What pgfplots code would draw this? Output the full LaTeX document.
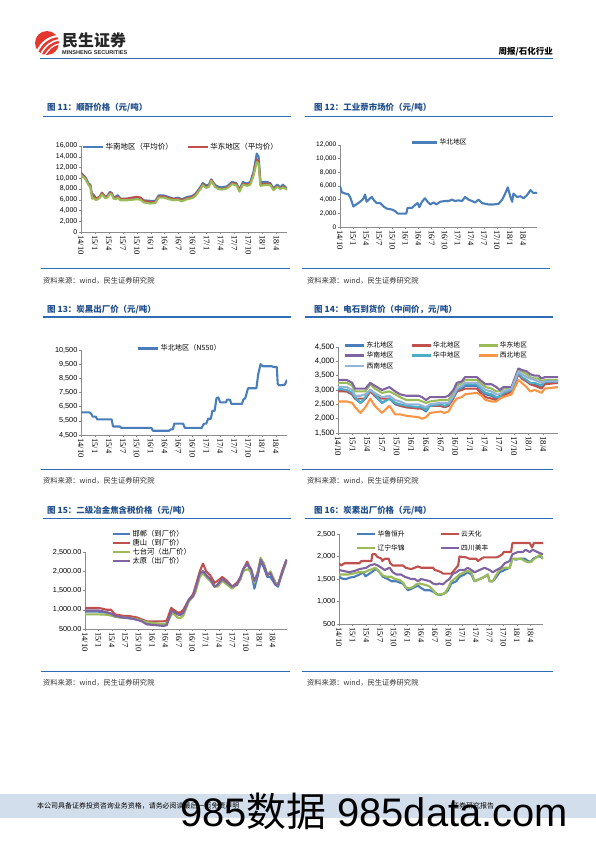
\documentclass[border=0pt]{standalone}
\usepackage{fontspec}
\usepackage{pgfplots}
\usepackage{pgfplotstable}
\pgfplotsset{compat=1.18}
\setmainfont{Liberation Sans}
\newfontfamily\cjk{Noto Sans CJK SC}
\newfontfamily\tnr{Liberation Serif}

\definecolor{cBlue}{HTML}{4A7EBB}
\definecolor{cRed}{HTML}{C0504D}
\definecolor{cGreen}{HTML}{9BBB59}
\definecolor{cPurple}{HTML}{8064A2}
\definecolor{cTeal}{HTML}{4BACC6}
\definecolor{cOrange}{HTML}{F79646}
\definecolor{cLBlue}{HTML}{95B3D7}
\definecolor{hdrBlue}{HTML}{2E6DB4}
\definecolor{ttlBlue}{HTML}{1F4E8C}
\definecolor{axGray}{HTML}{8C8C8C}
\definecolor{bandBlue}{HTML}{D2DEEB}
\definecolor{logoRed}{HTML}{E4382E}

\pgfplotstableread{
m ne nc ec sc cc nw sw
0 3000 2950 3250 3350 3050 2600 3100
1.8 2950 2950 3250 3350 3000 2600 3100
2.9 2850 2850 3150 3250 2900 2550 3000
3.5 2700 2700 2950 3050 2750 2400 2800
4.6 2550 2700 2950 3050 2550 2200 2800
5.6 2700 2700 2950 3050 2750 2400 2850
6.6 3000 2950 3200 3250 3000 2700 3000
7.5 2800 2800 3050 3150 2850 2450 2900
9.0 2550 2700 2900 3000 2550 2200 2750
10.5 2700 2700 2950 3100 2700 2450 2800
11.7 2500 2550 2850 2950 2550 2150 2650
12.7 2450 2450 2750 2850 2500 2150 2600
14 2400 2400 2650 2800 2450 2100 2500
16.5 2400 2350 2650 2800 2400 2050 2500
17.2 2350 2350 2600 2750 2400 2000 2450
18 2250 2350 2550 2650 2300 2050 2400
18.8 2450 2450 2600 2750 2450 2200 2500
21 2450 2450 2650 2750 2500 2250 2550
21.8 2400 2400 2650 2750 2450 2200 2550
22.6 2500 2450 2650 2800 2500 2250 2550
23.6 2750 2700 2900 3000 2750 2550 2800
24.3 2950 2950 3150 3250 3000 2700 3050
25.3 3050 3000 3250 3300 3100 2750 3150
26 3150 3050 3350 3450 3200 2850 3250
28.4 3150 3050 3350 3450 3200 2900 3250
29.4 2950 2850 3200 3300 3000 2800 3100
30.2 2850 2750 3100 3200 2900 2650 3000
31.4 2800 2700 3050 3200 2850 2600 2950
32.4 2700 2650 2950 3100 2750 2600 2850
33.1 2800 2700 2950 3000 2750 2700 2850
33.8 2850 2800 3050 3100 2900 2750 2950
35.5 2950 2950 3100 3100 3000 2850 3050
36.9 3650 3550 3700 3750 3600 3350 3650
37.6 3400 3400 3650 3700 3450 3250 3550
38.6 3300 3300 3550 3650 3350 3100 3450
39.3 3250 3200 3450 3550 3250 2950 3400
40.2 3200 3150 3400 3500 3250 3000 3350
41 3150 3100 3400 3500 3200 2950 3300
41.6 3100 3050 3300 3400 3150 2900 3250
42.3 3250 3200 3350 3450 3300 3050 3300
45 3300 3250 3350 3450 3300 3100 3300
}\tabFourteen

\pgfplotstableread{
m hd ts qt ty
0 950 1050 880 980
3 950 1050 880 980
4.9 920 1000 870 940
5.8 900 1000 850 900
6.7 820 880 820 840
8.6 790 840 800 800
9.7 780 840 790 790
11.6 750 800 760 740
12.7 720 750 720 700
13.8 650 700 680 620
17.6 620 700 620 580
18.3 650 720 640 600
19.3 950 1050 870 950
19.8 1000 1000 900 950
20.7 900 930 800 880
21.3 880 930 780 860
22 950 1000 850 920
23.2 1250 1250 1200 1250
24.2 1400 1400 1350 1350
24.7 1550 1600 1450 1550
25.7 1900 2000 1850 1950
26.4 2000 2200 1950 2000
27.1 1900 2000 1850 1900
28 1800 1900 1750 1800
29 1600 1700 1600 1600
29.7 1650 1750 1600 1650
30.7 1800 1850 1750 1800
31.8 1700 1750 1650 1700
32.9 1600 1600 1550 1600
34 1650 1700 1650 1650
34.8 1800 1850 1800 1850
35.4 2050 2050 2000 2050
36.3 2200 2250 2050 2200
37.2 1950 2000 2000 2050
37.9 1550 1700 1700 1750
38.7 1900 2000 2000 1950
39.3 2250 2300 2350 2300
40 2100 2200 2200 2150
40.8 1850 1900 1900 1900
41.5 1850 1950 2000 1950
42.6 1650 1700 1700 1650
43.2 1600 1650 1650 1650
44.1 1950 2000 1950 1950
45.1 2300 2300 2250 2300
}\tabFifteen

\pgfplotsset{
  rep/.style={
    scale only axis,
    axis x line*=bottom, axis y line*=left,
    axis line style={draw=axGray, line width=0.7bp},
    tick style={draw=axGray, line width=0.5bp},
    tick align=outside, major tick length=2bp,
    xmin=0,
    xtick={0,3,...,42},
    xticklabels={14/10,15/1,15/4,15/7,15/10,16/1,16/4,16/7,16/10,17/1,17/4,17/7,17/10,18/1,18/4},
    xticklabel style={rotate=-90, anchor=west, inner sep=1.2bp, font=\tnr\fontsize{8.5}{9}\selectfont},
    yticklabel style={inner sep=1.5bp, font=\fontsize{7}{8}\selectfont},
    /pgf/number format/assume math mode=true,
    /pgf/number format/1000 sep={,},
    scaled y ticks=false,
    legend style={draw=none, fill=none, inner sep=0pt, outer sep=0pt, anchor=north west,
      font=\cjk\fontsize{7}{8}\selectfont,
      nodes={inner sep=1bp, text height=5.6bp, text depth=1.4bp}},
    legend cell align=left,
    every axis plot/.append style={line width=2.1bp, line join=round, mark=none},
  }
}

\newcommand{\ttl}[3]{\node[anchor=west, inner sep=0, text=ttlBlue] at (#1bp,-#2bp) {\cjk\bfseries\fontsize{8.5}{9}\selectfont #3};}
\newcommand{\src}[2]{\node[anchor=west, inner sep=0, text=black!80] at (#1bp,-#2bp) {\cjk\fontsize{7.3}{8}\selectfont 资料来源：wind，民生证券研究院};}

\begin{document}
\begin{tikzpicture}
\fill[white] (0,0) rectangle (596bp,-842bp);
\path[use as bounding box] (0,0) rectangle (596bp,-842bp);

% ---------- header ----------
\fill[logoRed] (47bp,-43bp) circle (12bp);
\draw[white, line width=2bp] (37bp,-52bp) .. controls (41bp,-43bp) and (48bp,-37bp) .. (58bp,-36bp);
\draw[white, line width=1.6bp] (41bp,-54bp) .. controls (45bp,-46bp) and (51bp,-41bp) .. (59bp,-40bp);
\draw[white, line width=1.2bp] (45bp,-55bp) .. controls (49bp,-49bp) and (53bp,-45bp) .. (59bp,-44bp);
\node[anchor=west, inner sep=0, text=black!85] at (62bp,-40.5bp) {\cjk\bfseries\fontsize{16}{16}\selectfont 民生证券};
\node[anchor=west, inner sep=0, text=black!85] at (62bp,-52.5bp) {\bfseries\fontsize{5.6}{6}\selectfont MINSHENG SECURITIES};
\node[anchor=east, inner sep=0] at (553bp,-52bp) {\cjk\bfseries\fontsize{8.5}{9}\selectfont 周报/石化行业};
\draw[hdrBlue, line width=1.5bp] (40bp,-58.5bp) -- (553bp,-58.5bp);

% ---------- titles, rules, sources ----------
\ttl{47}{108}{图 11：顺酐价格（元/吨）}
\ttl{314}{108}{图 12：工业萘市场价（元/吨）}
\draw[hdrBlue, line width=1.2bp] (43bp,-116.5bp) -- (291bp,-116.5bp);
\draw[hdrBlue, line width=1.2bp] (305bp,-116.5bp) -- (553bp,-116.5bp);
\draw[hdrBlue, line width=0.9bp] (41bp,-268bp) -- (290bp,-268bp);
\draw[hdrBlue, line width=0.9bp] (302bp,-268bp) -- (550bp,-268bp);
\src{43}{281}
\src{307}{281}

\ttl{47}{309.5}{图 13：炭黑出厂价（元/吨）}
\ttl{314}{309.5}{图 14：电石到货价（中间价，元/吨）}
\draw[hdrBlue, line width=1.2bp] (43bp,-317bp) -- (291bp,-317bp);
\draw[hdrBlue, line width=1.2bp] (305bp,-317bp) -- (553bp,-317bp);
\draw[hdrBlue, line width=0.9bp] (41bp,-469bp) -- (290bp,-469bp);
\draw[hdrBlue, line width=0.9bp] (302bp,-469bp) -- (553bp,-469bp);
\src{43}{481}
\src{307}{481}

\ttl{47}{511}{图 15：二级冶金焦含税价格（元/吨）}
\ttl{314}{511}{图 16：炭素出厂价格（元/吨）}
\draw[hdrBlue, line width=1.2bp] (43bp,-518.5bp) -- (291bp,-518.5bp);
\draw[hdrBlue, line width=1.2bp] (305bp,-518.5bp) -- (553bp,-518.5bp);
\draw[hdrBlue, line width=0.9bp] (41bp,-671bp) -- (290bp,-671bp);
\draw[hdrBlue, line width=0.9bp] (302bp,-671bp) -- (553bp,-671bp);
\src{43}{683}
\src{307}{683}

% ---------- chart 11 ----------
\begin{axis}[rep, at={(81bp,-232bp)}, anchor=south west, width=206bp, height=86bp,
  xmax=44.3, ymin=0, ymax=16000, ytick={0,2000,...,16000},
  legend columns=2,
  legend style={at={(0.005,1.04)}, font=\cjk\fontsize{7.5}{8}\selectfont, /tikz/every even column/.append style={column sep=13bp}},
  legend image code/.code={\draw[#1, line width=2.6bp] (0bp,0bp) -- (20bp,0bp);}]
\addplot[cBlue] coordinates {(0,11000) (0.9,10250) (1.65,9000) (2.0,8800) (2.4,6800) (2.7,7000) (3.1,6400) (3.4,6300) (4.0,6500) (4.5,7300) (5.2,6500) (5.7,6800) (6.2,7450) (6.6,7300) (7.0,6500) (7.5,6600) (7.9,6850) (8.5,6200) (9.9,6200) (11,6300) (12,6450) (12.8,6350) (13.5,5900) (14.9,5800) (16.0,5800) (16.7,6800) (17.8,6800) (18.9,6500) (19.9,6200) (20.8,6400) (21.7,6100) (22.8,6500) (23.9,6700) (24.6,7100) (25.7,8400) (26.2,9100) (26.9,8700) (27.5,8800) (28.0,9800) (28.9,8700) (29.6,8400) (30.3,8300) (31.4,8500) (32.5,9300) (33.4,9100) (34.1,7900) (34.8,9300) (35.7,9000) (36.4,9300) (37.1,11200) (37.8,14600) (38.2,14000) (38.6,9300) (39.3,9300) (40.0,9300) (40.7,9100) (41.4,8100) (42.2,8800) (42.9,8300) (43.4,8800) (44.3,8100)};
\addlegendentry{华南地区（平均价）}
\addplot[cRed] coordinates {(0,10900) (0.9,10100) (1.65,8900) (2.0,8600) (2.4,6500) (2.7,6700) (3.1,6300) (3.4,6300) (4.0,6500) (4.5,7300) (5.2,6500) (5.7,6600) (6.2,7300) (6.6,7200) (7.0,6400) (7.5,6300) (7.9,6600) (8.5,6100) (9.9,6200) (11,6400) (12,6550) (12.8,6400) (13.5,5800) (14.9,5600) (16.0,5600) (16.7,6600) (17.8,6600) (18.9,6300) (19.9,6100) (20.8,6200) (21.7,5900) (22.8,6300) (23.9,6500) (24.6,6900) (25.7,8200) (26.2,8900) (26.9,8300) (27.5,8600) (28.0,9700) (28.9,8500) (29.6,8000) (30.3,8000) (31.4,8300) (32.5,9100) (33.4,8900) (34.1,7700) (34.8,9000) (35.7,8800) (36.4,9000) (37.1,10800) (37.8,13500) (38.2,13000) (38.6,8800) (39.3,9000) (40.0,9000) (40.7,8900) (41.4,7900) (42.2,8500) (42.9,8100) (43.4,8500) (44.3,7900)};
\addlegendentry{华东地区（平均价）}
\addplot[cGreen, forget plot] coordinates {(0,10600) (0.9,9900) (1.65,8700) (2.0,8400) (2.4,6200) (2.7,6300) (3.1,6000) (3.4,6000) (4.0,6300) (4.5,7000) (5.2,6300) (5.7,6400) (6.2,7100) (6.6,7000) (7.0,6200) (7.5,6100) (7.9,6400) (8.5,5900) (9.9,5900) (11,6000) (12,6100) (12.8,6000) (13.5,5500) (14.9,5300) (16.0,5400) (16.7,6400) (17.8,6400) (18.9,6100) (19.9,5900) (20.8,6000) (21.7,5700) (22.8,6100) (23.9,6300) (24.6,6700) (25.7,8000) (26.2,8700) (26.9,8200) (27.5,8400) (28.0,9500) (28.9,8300) (29.6,8000) (30.3,7900) (31.4,8100) (32.5,8900) (33.4,8700) (34.1,7500) (34.8,8800) (35.7,8600) (36.4,8800) (37.1,10500) (37.8,13000) (38.2,12700) (38.6,8600) (39.3,8700) (40.0,8800) (40.7,8700) (41.4,7800) (42.2,8400) (42.9,8000) (43.4,8300) (44.3,7900)};
\end{axis}

% ---------- chart 12 ----------
\begin{axis}[rep, at={(340bp,-227bp)}, anchor=south west, width=197bp, height=82bp,
  xmax=45.2, ymin=0, ymax=12000, ytick={0,2000,...,12000},
  yticklabel style={font=\fontsize{6.6}{7}\selectfont},
  legend style={at={(0.36,1.085)}, font=\cjk\fontsize{6.8}{8}\selectfont},
  legend image code/.code={\draw[#1, line width=2.6bp] (0bp,0bp) -- (25bp,0bp);}]
\addplot[cBlue] coordinates {(0,6000) (0.4,5100) (1.15,4900) (1.9,4800) (2.3,4400) (2.7,3700) (3.07,3000) (3.45,3200) (4.2,3500) (5.0,3900) (5.4,4200) (5.75,4750) (6.1,3700) (6.9,4200) (7.3,4400) (7.8,3900) (8.4,3500) (9.2,3500) (10,3000) (10.7,2700) (11.9,2550) (12.6,2350) (13.3,1950) (14.2,1950) (15.2,1950) (15.5,2800) (16.5,2800) (17.2,3200) (17.8,3500) (18.2,2900) (18.8,3700) (19.5,4200) (20.1,3700) (20.7,3300) (21.5,3600) (22.1,3300) (23,3700) (24.1,3800) (24.9,3800) (25.7,4000) (26.4,3800) (27.2,3900) (28,3800) (28.7,4400) (29.5,4000) (30.3,3800) (31,3600) (31.8,4000) (32.6,3500) (33.3,3400) (34.1,3300) (35.2,3300) (36.4,3400) (37.2,4000) (37.9,4900) (38.5,5800) (39.1,4400) (39.5,3700) (39.8,4900) (40.6,4400) (41.4,4500) (42.1,4200) (42.9,4650) (43.7,5400) (44.3,5000) (45.2,5000)};
\addlegendentry{华北地区}
\end{axis}

% ---------- chart 13 ----------
\begin{axis}[rep, at={(81bp,-435bp)}, anchor=south west, width=206bp, height=85bp,
  xmax=44.4, ymin=4500, ymax=10500, ytick={4500,5500,...,10500},
  yticklabel style={font=\fontsize{7.3}{8}\selectfont},
  legend style={at={(0.272,1.07)}, font=\cjk\fontsize{7.2}{8}\selectfont},
  legend image code/.code={\draw[#1, line width=2.6bp] (0bp,0bp) -- (20bp,0bp);}]
\addplot[cBlue] coordinates {(0,6100) (1.8,6100) (2.2,6000) (2.5,5800) (3.2,5800) (3.5,5600) (6.6,5600) (6.9,5100) (8.4,5100) (8.7,5000) (15.2,5000) (15.5,4800) (19.0,4800) (19.3,4900) (19.8,4900) (20.1,5300) (22.0,5300) (22.4,5000) (26.0,5000) (26.5,5300) (27.0,5300) (27.4,5650) (28.0,5650) (28.3,6200) (28.8,6200) (29.2,7100) (29.6,7150) (30.0,6800) (31.2,6800) (31.5,7000) (32.1,7000) (32.4,6700) (34.7,6700) (35.0,7000) (35.4,7100) (36.0,7800) (37.8,7800) (38.2,8800) (38.7,9500) (39.2,9350) (41.2,9350) (41.5,9300) (42.2,9300) (42.4,8100) (42.8,8000) (43.9,8050) (44.0,8100) (44.4,8400)};
\addlegendentry{华北地区（N550）}
\end{axis}

% ---------- chart 14 ----------
\begin{axis}[rep, at={(338bp,-433bp)}, anchor=south west, width=220bp, height=86bp,
  xmax=45, ymin=1500, ymax=4500, ytick={1500,2000,...,4500},
  yticklabel style={font=\fontsize{7.8}{8}\selectfont},
  xticklabel style={font=\tnr\fontsize{8.8}{9}\selectfont},
  legend columns=3,
  legend style={at={(0.027,1.07)}, font=\cjk\fontsize{6.8}{8}\selectfont, /tikz/every even column/.append style={column sep=16bp}, /tikz/row sep=1.3bp},
  legend image code/.code={\draw[#1, line width=2.6bp] (0bp,0bp) -- (19bp,0bp);}]
\addplot[cBlue] table[x=m,y=ne] {\tabFourteen}; \addlegendentry{东北地区}
\addplot[cRed] table[x=m,y=nc] {\tabFourteen}; \addlegendentry{华北地区}
\addplot[cGreen] table[x=m,y=ec] {\tabFourteen}; \addlegendentry{华东地区}
\addplot[cPurple] table[x=m,y=sc] {\tabFourteen}; \addlegendentry{华南地区}
\addplot[cTeal] table[x=m,y=cc] {\tabFourteen}; \addlegendentry{华中地区}
\addplot[cOrange] table[x=m,y=nw] {\tabFourteen}; \addlegendentry{西北地区}
\addplot[cLBlue] table[x=m,y=sw] {\tabFourteen}; \addlegendentry{西南地区}
\end{axis}

% ---------- chart 15 ----------
\begin{axis}[rep, at={(85bp,-629bp)}, anchor=south west, width=202bp, height=77bp,
  xmax=45.2, ymin=500, ymax=2500, ytick={500,1000,...,2500},
  /pgf/number format/fixed, /pgf/number format/fixed zerofill, /pgf/number format/precision=2,
  yticklabel style={font=\fontsize{7.3}{8}\selectfont},
  legend style={at={(0.134,1.29)}, font=\cjk\fontsize{7.3}{8}\selectfont, /tikz/row sep=0bp},
  legend image code/.code={\draw[#1, line width=2.6bp] (0bp,0bp) -- (17bp,0bp);}]
\addplot[cBlue] table[x=m,y=hd] {\tabFifteen}; \addlegendentry{邯郸（到厂价）}
\addplot[cRed] table[x=m,y=ts] {\tabFifteen}; \addlegendentry{唐山（到厂价）}
\addplot[cGreen] table[x=m,y=qt] {\tabFifteen}; \addlegendentry{七台河（出厂价）}
\addplot[cPurple] table[x=m,y=ty] {\tabFifteen}; \addlegendentry{太原（出厂价）}
\end{axis}

% ---------- chart 16 ----------
\begin{axis}[rep, at={(339bp,-624bp)}, anchor=south west, width=204bp, height=90bp,
  xmax=44.7, ymin=500, ymax=2500, ytick={500,1000,...,2500},
  yticklabel style={font=\fontsize{7.3}{8}\selectfont},
  legend columns=2,
  legend style={at={(0.083,1.05)}, font=\cjk\fontsize{6.8}{8}\selectfont, /tikz/every even column/.append style={column sep=34bp}, /tikz/row sep=5bp},
  legend image code/.code={\draw[#1, line width=2.6bp] (0bp,0bp) -- (18bp,0bp);}]
\addplot[cBlue] coordinates {(0,1550) (0.9,1500) (1.6,1500) (2.3,1530) (3.4,1550) (4.5,1600) (5.3,1650) (5.8,1560) (6.4,1600) (7.1,1650) (7.8,1700) (8.2,1720) (8.9,1650) (9.6,1550) (10.7,1500) (11.5,1450) (12.6,1450) (13.3,1420) (14,1400) (14.7,1300) (15.1,1250) (15.8,1280) (16.6,1320) (17.3,1350) (18,1300) (18.8,1250) (19.9,1250) (21,1200) (21.7,1150) (22.4,1150) (23.4,1200) (23.9,1250) (24.6,1400) (25.7,1450) (26.4,1550) (27.5,1600) (28.2,1650) (29,1600) (29.7,1450) (30.8,1500) (31.9,1550) (32.6,1600) (33,1450) (33.7,1450) (34.5,1550) (35.2,1650) (36.3,1700) (37.4,1750) (38,1950) (38.8,1930) (39.5,1950) (40.7,1950) (41.4,1900) (42.1,1880) (42.5,1950) (43.6,2000) (44.3,2000) (44.7,1950)};
\addlegendentry{华鲁恒升}
\addplot[cRed] coordinates {(0,1850) (0.5,1800) (1.2,1850) (4.5,1850) (4.9,1900) (7.1,1900) (7.3,2050) (8,2050) (8.3,2000) (9.3,1950) (9.5,1900) (10,1950) (10.9,1950) (11.2,1850) (11.8,1800) (14,1800) (14.6,1750) (15.8,1720) (16.6,1750) (17.3,1780) (18,1750) (20.6,1750) (21,1700) (21.7,1680) (22.4,1650) (22.8,1620) (24.6,1620) (25.3,1700) (26.1,1800) (26.4,2000) (27.9,1980) (28.6,1950) (30.1,1950) (30.4,1900) (31.2,1950) (31.7,1980) (34.5,1980) (35,2000) (35.8,2050) (36.1,2100) (37.7,2100) (38,2300) (41.8,2300) (42.3,2200) (42.7,2300) (44.7,2300)};
\addlegendentry{云天化}
\addplot[cGreen] coordinates {(0,1600) (2,1600) (3.1,1620) (4.2,1650) (5.6,1650) (6.7,1700) (8,1750) (8.9,1650) (9.6,1580) (10.4,1550) (11.5,1550) (12.2,1500) (13.3,1480) (14.2,1400) (14.7,1300) (15.5,1300) (16.2,1320) (16.9,1380) (17.7,1400) (18.5,1380) (19.5,1350) (20.2,1300) (21,1200) (21.5,1150) (23.1,1170) (23.9,1300) (24.6,1450) (25.3,1500) (26.4,1600) (27.5,1650) (28.2,1680) (29,1650) (29.7,1450) (30.8,1500) (31.9,1550) (32.6,1600) (33,1450) (33.7,1450) (34.5,1600) (35.2,1700) (36.3,1750) (37.4,1750) (38,1950) (39.2,1950) (39.9,1950) (40.7,1900) (41.4,1870) (42.1,1880) (42.8,1950) (43.6,2000) (44.1,2050) (44.7,1950)};
\addlegendentry{辽宁华锦}
\addplot[cPurple] coordinates {(0,1700) (0.9,1680) (2.3,1650) (3.4,1680) (4.5,1720) (6,1750) (6.7,1800) (7.8,1830) (8.5,1800) (9.3,1750) (10,1700) (11.1,1750) (11.8,1650) (12.6,1600) (13.6,1600) (14.4,1550) (15.8,1500) (16.6,1500) (17.3,1450) (18,1500) (18.8,1480) (19.9,1450) (20.6,1400) (21.3,1380) (22,1400) (22.8,1380) (23.5,1450) (24.2,1500) (25,1620) (25.7,1650) (26.4,1700) (27.5,1700) (28.2,1750) (29,1700) (29.7,1650) (30.8,1700) (31.9,1750) (33,1700) (33.7,1650) (34.5,1700) (35.5,1750) (36.3,1850) (37.4,1900) (38,2050) (39.2,2100) (40.3,2100) (40.9,2150) (41.8,2100) (42.5,2150) (43.4,2100) (44.7,2050)};
\addlegendentry{四川美丰}
\end{axis}

% ---------- footer ----------
\fill[bandBlue] (0,-794bp) rectangle (596bp,-818bp);
\node[anchor=west, inner sep=0] at (37bp,-806bp) {\cjk\fontsize{7}{8}\selectfont 本公司具备证券投资咨询业务资格，请务必阅读最后一页免责声明};
\node[anchor=west, inner sep=0] at (452bp,-806bp) {\cjk\fontsize{7}{8}\selectfont 证券研究报告};
\node[anchor=base west, inner sep=0] at (180bp,-826bp) {\fontsize{40}{40}\selectfont 985{\cjk 数据} 985data.com};
\end{tikzpicture}
\end{document}
